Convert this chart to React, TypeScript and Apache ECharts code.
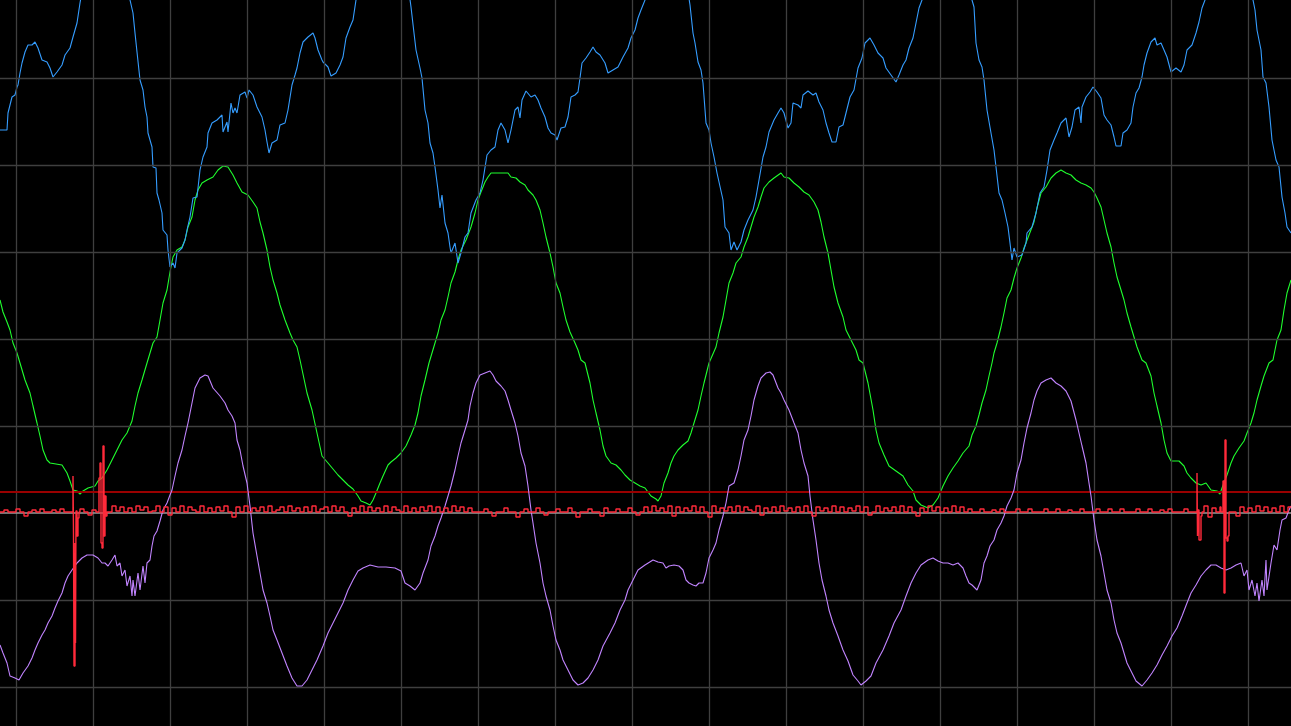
import React, { useEffect, useRef } from "react";
import * as echarts from "echarts";

// Oscilloscope capture. x: sample index from trigger, y: ADC counts from ground.
const X_PER_DIV = 77;
const Y_PER_DIV = 87;
const X_VIEW: [number, number] = [-16, 1275];
const Y_VIEW: [number, number] = [-213, 513];
const X_DIVS = [0, 1, 2, 3, 4, 5, 6, 7, 8, 9, 10, 11, 12, 13, 14, 15, 16];
const Y_DIVS = [-2, -1, 0, 1, 2, 3, 4, 5];

const TRIGGER_LEVEL = 21;
const GROUND_LEVEL = 0;

const BLUE: number[][] = [
  [-16,383],[-9,383],[-8,400],[-4,416],[-1,418],[1,426],[2,428],[4,440],[6,450],[9,461],[12,468],[16,468],[19,471],[22,465],[26,453],[31,451],[34,445],[37,436],[41,441],[46,448],[49,458],[54,465],[57,476],[61,490],[64,510],[66,521],
  [90,558],
  [112,521],[114,513],[117,500],[119,480],[121,461],[124,433],[127,423],[129,406],[131,396],[132,380],[136,366],[137,346],[140,345],[141,320],[143,313],[146,300],[147,283],[151,278],[152,263],[154,246],[157,250],[159,245],[161,260],[166,265],[169,273],[171,283],[174,296],[177,315],[181,316],[184,343],[187,356],[191,366],[192,380],[196,390],[201,393],[206,398],[207,381],[211,391],[212,381],[215,410],[217,400],[219,405],[221,400],[224,418],[229,421],[231,415],[233,423],[237,418],[241,406],[246,396],[249,383],[251,371],[253,360],[256,370],[261,373],[264,388],[269,390],[272,403],[276,428],[279,438],[281,445],[284,460],[287,471],[292,476],[297,480],[299,475],[302,463],[306,453],[307,451],[312,446],[315,437],[320,440],[324,448],[327,456],[330,475],[334,486],[337,493],[340,513],[342,521],
  [367,558],
  [393,521],[395,506],[398,480],[400,463],[404,445],[406,435],[409,403],[412,390],[414,370],[417,360],[419,346],[422,323],[424,305],[426,318],[429,290],[432,280],[434,266],[435,260],[439,270],[442,250],[445,260],[449,276],[452,280],[455,300],[460,313],[464,320],[467,333],[471,358],[475,363],[479,366],[482,383],[485,390],[489,383],[492,370],[495,383],[499,403],[502,406],[504,395],[506,413],[510,422],[515,416],[519,418],[522,413],[525,405],[529,396],[532,385],[535,380],[539,378],[541,373],[545,385],[549,386],[552,396],[555,416],[559,418],[562,421],[564,435],[566,450],[570,455],[574,461],[577,466],[580,461],[584,458],[589,450],[592,440],[597,443],[602,446],[607,456],[612,465],[615,475],[619,483],[622,495],[625,503],[629,513],[631,521],
  [651,553],
  [672,521],[674,508],[677,480],[679,470],[682,451],[685,443],[687,430],[690,390],[693,383],[695,370],[698,356],[701,340],[703,331],[707,313],[709,286],[713,280],[715,263],[718,271],[721,263],[725,271],[728,283],[732,293],[737,303],[740,316],[743,333],[747,356],[750,366],[753,381],[758,393],[762,400],[765,405],[768,400],[772,385],[775,390],[777,410],[782,408],[785,405],[787,418],[792,422],[797,418],[800,420],[803,411],[807,403],[810,390],[813,380],[816,371],[820,371],[823,386],[827,388],[830,400],[834,416],[838,423],[842,445],[846,455],[849,470],[854,475],[858,468],[862,460],[867,455],[870,445],[875,438],[880,431],[883,438],[887,448],[890,453],[893,465],[897,475],[900,490],[903,505],[906,513],[908,521],
  [931,548],
  [954,521],[956,513],[958,506],[960,470],[963,453],[966,446],[968,433],[971,403],[975,380],[978,363],[980,346],[983,320],[986,313],[989,300],[992,286],[994,270],[996,253],[998,265],[1001,256],[1006,258],[1010,270],[1011,280],[1016,286],[1020,300],[1024,320],[1028,326],[1031,343],[1034,363],[1038,373],[1041,380],[1045,390],[1050,395],[1053,376],[1056,386],[1059,403],[1063,406],[1065,390],[1066,406],[1070,416],[1074,421],[1077,426],[1081,421],[1085,415],[1088,398],[1091,393],[1095,388],[1098,376],[1100,367],[1105,367],[1107,380],[1111,383],[1115,390],[1117,406],[1120,420],[1123,425],[1126,436],[1128,448],[1131,460],[1135,471],[1139,475],[1141,468],[1145,470],[1148,463],[1151,456],[1155,441],[1160,445],[1165,441],[1168,448],[1171,463],[1176,468],[1180,480],[1183,491],[1186,505],[1189,513],[1191,521],
  [1213,553],
  [1235,521],[1237,513],[1239,503],[1241,483],[1245,463],[1247,436],[1250,430],[1253,406],[1256,373],[1260,353],[1263,346],[1266,316],[1269,300],[1271,286],[1275,280],
];

const GREEN: number[][] = [
  [-16,213],[-13,201],[-9,191],[-6,183],[-3,170],[1,160],[4,150],[9,133],[14,120],[17,107],[21,90],[24,77],[27,63],[31,53],[34,50],[46,48],[51,40],[54,32],[57,23],[61,22],[64,19],[67,22],[72,25],[79,27],[82,32],[86,35],[91,43],[96,53],[101,63],[106,73],[111,80],[116,92],[119,107],[122,120],[126,133],[131,150],[137,170],[141,176],[144,193],[147,210],[151,223],[154,241],[157,256],[161,263],[166,266],[169,273],[172,286],[176,296],[179,313],[182,323],[186,330],[191,333],[197,336],[202,343],[207,347],[212,346],[217,338],[221,330],[226,321],[232,318],[237,311],[241,305],[244,291],[247,280],[251,263],[254,246],[257,233],[261,220],[264,208],[269,193],[274,180],[277,173],[281,166],[284,153],[291,120],[296,103],[301,80],[306,57],[312,50],[317,44],[322,38],[327,33],[332,28],[337,24],[342,17],[345,12],[350,10],[354,8],[357,13],[360,20],[364,30],[367,37],[372,48],[375,51],[380,55],[385,60],[390,67],[395,78],[399,88],[402,100],[405,117],[409,133],[413,150],[419,170],[422,180],[425,193],[429,203],[432,216],[435,230],[439,241],[442,253],[445,263],[450,273],[455,286],[459,300],[462,313],[465,321],[469,331],[472,336],[475,340],[492,340],[495,336],[500,335],[504,331],[509,328],[512,323],[517,318],[520,313],[524,303],[527,290],[530,276],[534,260],[537,246],[540,230],[544,220],[547,206],[550,193],[554,181],[559,170],[562,163],[565,153],[569,150],[574,130],[577,113],[580,100],[584,83],[587,67],[590,57],[595,50],[600,48],[605,43],[609,38],[614,33],[619,30],[624,27],[629,25],[635,17],[640,14],[642,12],[645,17],[648,30],[652,40],[655,50],[658,57],[662,63],[667,68],[672,72],[675,80],[678,90],[682,103],[685,117],[688,130],[693,150],[700,166],[703,180],[707,196],[710,213],[713,230],[717,240],[720,250],[725,256],[728,266],[732,276],[735,286],[738,296],[742,306],[745,316],[748,325],[753,331],[758,335],[765,340],[768,336],[773,335],[778,330],[783,326],[788,321],[793,318],[798,311],[802,303],[805,291],[808,276],[812,260],[815,243],[818,226],[822,210],[827,196],[830,183],[835,173],[840,163],[843,153],[847,150],[852,130],[857,103],[860,83],[863,70],[868,58],[873,47],[880,42],[887,37],[892,28],[897,22],[900,13],[905,8],[912,5],[917,8],[922,15],[927,27],[932,37],[937,45],[942,52],[947,60],[953,67],[956,78],[960,87],[963,98],[966,110],[970,123],[973,137],[976,150],[978,160],[981,170],[985,186],[988,200],[991,215],[995,223],[998,235],[1001,245],[1005,255],[1008,265],[1013,278],[1018,291],[1021,305],[1025,320],[1030,326],[1035,335],[1040,340],[1045,343],[1050,340],[1055,338],[1060,333],[1065,330],[1070,328],[1075,325],[1078,321],[1081,315],[1085,306],[1088,293],[1091,280],[1095,266],[1098,250],[1101,236],[1105,223],[1108,213],[1111,200],[1115,186],[1118,176],[1121,166],[1126,153],[1130,150],[1135,137],[1138,120],[1141,107],[1145,90],[1148,73],[1151,60],[1155,52],[1163,52],[1168,47],[1171,40],[1175,35],[1180,30],[1185,28],[1190,30],[1195,23],[1201,22],[1204,19],[1206,25],[1211,38],[1215,50],[1218,57],[1223,65],[1228,72],[1231,80],[1235,90],[1238,100],[1241,113],[1245,127],[1248,137],[1253,150],[1257,153],[1261,173],[1265,183],[1268,203],[1271,220],[1275,233],
];

const PURPLE: number[][] = [
  [-16,-132],[-13,-140],[-9,-150],[-6,-163],[-1,-165],[3,-167],[7,-160],[12,-153],[16,-145],[19,-137],[22,-130],[26,-122],[29,-117],[32,-110],[36,-103],[39,-95],[42,-88],[46,-80],[49,-70],[52,-63],[56,-57],[61,-50],[66,-45],[71,-42],[77,-42],[82,-45],[86,-50],[89,-50],[92,-53],[96,-47],[99,-42],[101,-53],[104,-50],[106,-63],[109,-57],[111,-73],[114,-63],[116,-83],[117,-67],[119,-83],[122,-60],[124,-77],[127,-53],[129,-70],[131,-50],[134,-47],[136,-33],[138,-23],[141,-18],[144,-8],[147,3],[151,10],[154,18],[156,23],[159,37],[162,50],[166,63],[169,77],[172,90],[176,110],[179,125],[184,135],[189,138],[192,137],[197,125],[204,117],[209,110],[212,103],[216,97],[219,90],[221,73],[224,63],[227,47],[231,30],[234,7],[237,-20],[241,-43],[244,-60],[247,-77],[251,-90],[254,-103],[257,-117],[261,-127],[266,-140],[271,-153],[276,-165],[281,-173],[286,-173],[291,-167],[296,-157],[301,-147],[307,-133],[312,-120],[317,-110],[322,-100],[327,-90],[332,-77],[337,-67],[342,-58],[347,-55],[354,-52],[362,-54],[370,-54],[379,-55],[385,-58],[389,-70],[394,-73],[399,-77],[404,-70],[407,-60],[412,-47],[415,-33],[419,-23],[422,-13],[425,-5],[429,7],[432,17],[435,27],[439,43],[442,57],[445,70],[449,83],[452,93],[454,107],[457,120],[460,130],[464,138],[469,140],[474,142],[477,138],[480,132],[485,127],[489,122],[492,113],[495,103],[499,90],[502,77],[505,60],[509,47],[512,27],[515,3],[517,-10],[520,-30],[524,-50],[527,-70],[530,-83],[534,-97],[537,-113],[540,-127],[544,-137],[547,-147],[552,-157],[557,-167],[562,-172],[567,-170],[572,-165],[577,-157],[582,-147],[587,-133],[594,-120],[599,-110],[604,-97],[609,-87],[612,-77],[617,-67],[622,-57],[629,-52],[637,-47],[642,-49],[647,-50],[650,-55],[653,-53],[658,-52],[663,-53],[667,-57],[670,-67],[673,-70],[677,-72],[680,-73],[683,-70],[687,-70],[690,-60],[693,-45],[697,-37],[700,-30],[703,-17],[707,-3],[710,10],[713,27],[718,30],[722,43],[725,57],[728,73],[732,83],[735,97],[738,113],[742,127],[745,135],[750,140],[754,141],[757,138],[762,125],[765,120],[768,113],[773,103],[778,90],[782,80],[785,63],[788,50],[792,37],[794,17],[797,-7],[800,-27],[803,-50],[806,-67],[810,-83],[813,-97],[817,-110],[822,-123],[827,-137],[832,-148],[837,-162],[842,-168],[845,-172],[850,-168],[855,-163],[860,-150],[867,-137],[873,-123],[878,-110],[885,-97],[890,-83],[895,-70],[900,-60],[905,-52],[912,-47],[917,-45],[922,-48],[927,-50],[932,-50],[937,-52],[942,-50],[947,-55],[950,-63],[953,-70],[956,-72],[961,-77],[965,-67],[968,-50],[971,-43],[974,-33],[978,-27],[981,-17],[985,-10],[988,-3],[991,7],[995,15],[998,23],[1001,40],[1005,53],[1008,70],[1011,85],[1015,100],[1018,113],[1021,122],[1025,130],[1030,133],[1035,135],[1040,130],[1045,127],[1050,122],[1055,112],[1060,93],[1063,80],[1066,67],[1070,50],[1073,30],[1075,17],[1078,-7],[1081,-27],[1085,-43],[1088,-60],[1091,-77],[1095,-90],[1098,-107],[1101,-120],[1105,-130],[1108,-140],[1111,-150],[1115,-158],[1120,-168],[1126,-173],[1131,-167],[1136,-160],[1141,-152],[1146,-142],[1151,-133],[1156,-123],[1161,-115],[1166,-103],[1171,-90],[1175,-80],[1180,-72],[1185,-63],[1190,-57],[1195,-52],[1200,-52],[1205,-55],[1210,-57],[1215,-55],[1220,-52],[1225,-50],[1228,-63],[1231,-57],[1233,-77],[1236,-67],[1239,-83],[1241,-70],[1243,-88],[1246,-67],[1248,-83],[1250,-47],[1251,-77],[1255,-50],[1258,-32],[1261,-37],[1264,-17],[1266,-7],[1270,-5],[1273,3],[1275,7],
];

// Red channel: noise samples every 4 samples starting at x = -16, plus glitch bursts.
const RED_START = -16;
const RED_STEP = 4;
const RED_NOISE: number[] = [
  1,3,1,1,4,1,-3,1,3,1,4,1,1,3,1,4,1,1,3,1,4,1,-2,3,1,4,
  6,1,7,2,6,1,5,1,7,3,6,1,2,7,1,6,-2,5,1,7,1,6,3,1,7,1,5,1,6,2,7,1,-4,6,1,7,1,5,2,6,1,7,1,3,6,1,7,2,5,1,6,1,7,1,4,6,1,7,2,6,1,-3,5,1,7,1,6,2,5,1,7,1,6,3,1,7,1,5,1,6,2,7,1,6,1,5,1,7,2,6,1,5,1,
  1,1,4,1,-3,1,1,5,1,1,-4,1,4,1,1,5,1,-2,1,1,4,1,1,5,1,-4,1,1,4,1,1,-3,5,1,1,4,1,1,5,1,-2,1,
  6,1,7,2,5,1,7,-3,6,1,5,2,7,1,6,1,-4,7,1,5,2,6,1,7,1,6,3,1,7,-2,5,1,6,1,7,2,5,1,6,1,7,1,-3,6,2,5,1,7,1,6,1,5,2,7,1,6,-2,1,7,1,5,2,6,1,7,1,6,1,-3,5,1,7,2,6,1,5,1,7,1,6,
  1,4,1,1,4,1,1,3,1,4,1,1,1,4,1,1,4,1,1,1,4,1,1,4,1,1,3,1,1,4,1,1,1,4,1,1,4,1,1,4,1,1,1,4,1,1,4,1,1,3,1,4,1,1,1,4,1,1,
  6,1,7,-4,5,1,6,2,7,1,-3,6,1,5,1,7,2,6,1,5,1,7,1,6,4,
];
const RED_GLITCHES: number[][][] = [
  [[55,1],[57,37],[57.5,-20],[58,-153],[59,-30],[59.5,-130],[60,2],[61,-23],[62,-5],[63,1]],
  [[82,1],[83,35],[84,50],[85,-30],[86,-35],[87,67],[88,-23],[89,17],[90,-3],[91,1]],
  [[1179,1],[1181,40],[1181.5,-23],[1182,3],[1183,-27],[1185,-3],[1186,1]],
  [[1205,1],[1207,32],[1208,-80],[1209,73],[1210,-25],[1211,-28],[1212,-23],[1213,1]],
];

function buildRed(): number[][] {
  const pts: number[][] = [];
  RED_NOISE.forEach((v, i) => {
    const x = RED_START + i * RED_STEP;
    const inGlitch = RED_GLITCHES.some((g) => x >= g[0][0] && x <= g[g.length - 1][0]);
    if (!inGlitch) pts.push([x, v]);
  });
  RED_GLITCHES.forEach((g) => g.forEach((p) => pts.push(p)));
  pts.sort((a, b) => a[0] - b[0]);
  return pts;
}

const COLORS = {
  blue: "#359dff",
  green: "#1fff2e",
  purple: "#c184ff",
  red: "#ff2a3a",
  trigger: "#9a0000",
  ground: "#9a9a9a",
  grid: "#3f3f3f",
};

export default function App() {
  const ref = useRef<HTMLDivElement>(null);
  useEffect(() => {
    if (!ref.current) return;
    const chart = echarts.init(ref.current, undefined, { renderer: "svg" });
    const line = (name: string, data: number[][], color: string, z: number, extra: any = {}) => ({
      name,
      type: "line",
      data,
      showSymbol: false,
      symbol: "none",
      silent: true,
      z,
      lineStyle: { color, width: 1.1 },
      ...extra,
    });
    const hidden = { show: false };
    const gridStyle = { color: COLORS.grid, width: 1.3, type: "solid" };
    chart.setOption({
      animation: false,
      backgroundColor: "#000",
      grid: { left: 0, right: 0, top: 0, bottom: 0, containLabel: false },
      xAxis: {
        type: "value",
        min: X_VIEW[0],
        max: X_VIEW[1],
        axisLine: hidden,
        axisTick: hidden,
        axisLabel: hidden,
        splitLine: hidden,
      },
      yAxis: {
        type: "value",
        min: Y_VIEW[0],
        max: Y_VIEW[1],
        axisLine: hidden,
        axisTick: hidden,
        axisLabel: hidden,
        splitLine: hidden,
      },
      series: [
        {
          name: "graticule",
          type: "line",
          data: [],
          silent: true,
          z: 1,
          markLine: {
            silent: true,
            symbol: "none",
            label: hidden,
            lineStyle: gridStyle,
            data: [
              ...X_DIVS.map((d) => ({ xAxis: d * X_PER_DIV })),
              ...Y_DIVS.filter((d) => d !== 0).map((d) => ({ yAxis: d * Y_PER_DIV })),
            ],
          },
        },
        {
          name: "levels",
          type: "line",
          data: [],
          silent: true,
          z: 2,
          markLine: {
            silent: true,
            symbol: "none",
            label: hidden,
            data: [
              { yAxis: TRIGGER_LEVEL, lineStyle: { color: COLORS.trigger, width: 2, type: "solid" } },
              { yAxis: GROUND_LEVEL, lineStyle: { color: COLORS.ground, width: 1.5, type: "solid" } },
            ],
          },
        },
        line("CH2", GREEN, COLORS.green, 3),
        line("CH1", BLUE, COLORS.blue, 4),
        line("CH3", PURPLE, COLORS.purple, 5),
        line("CH4", buildRed(), COLORS.red, 6, { step: "end", lineStyle: { color: COLORS.red, width: 1.4 } }),
      ],
    });
    return () => chart.dispose();
  }, []);
  return (
    <div
      ref={ref}
      style={{ position: "fixed", left: 0, top: 0, width: 1291, height: 726, background: "#000" }}
    />
  );
}
